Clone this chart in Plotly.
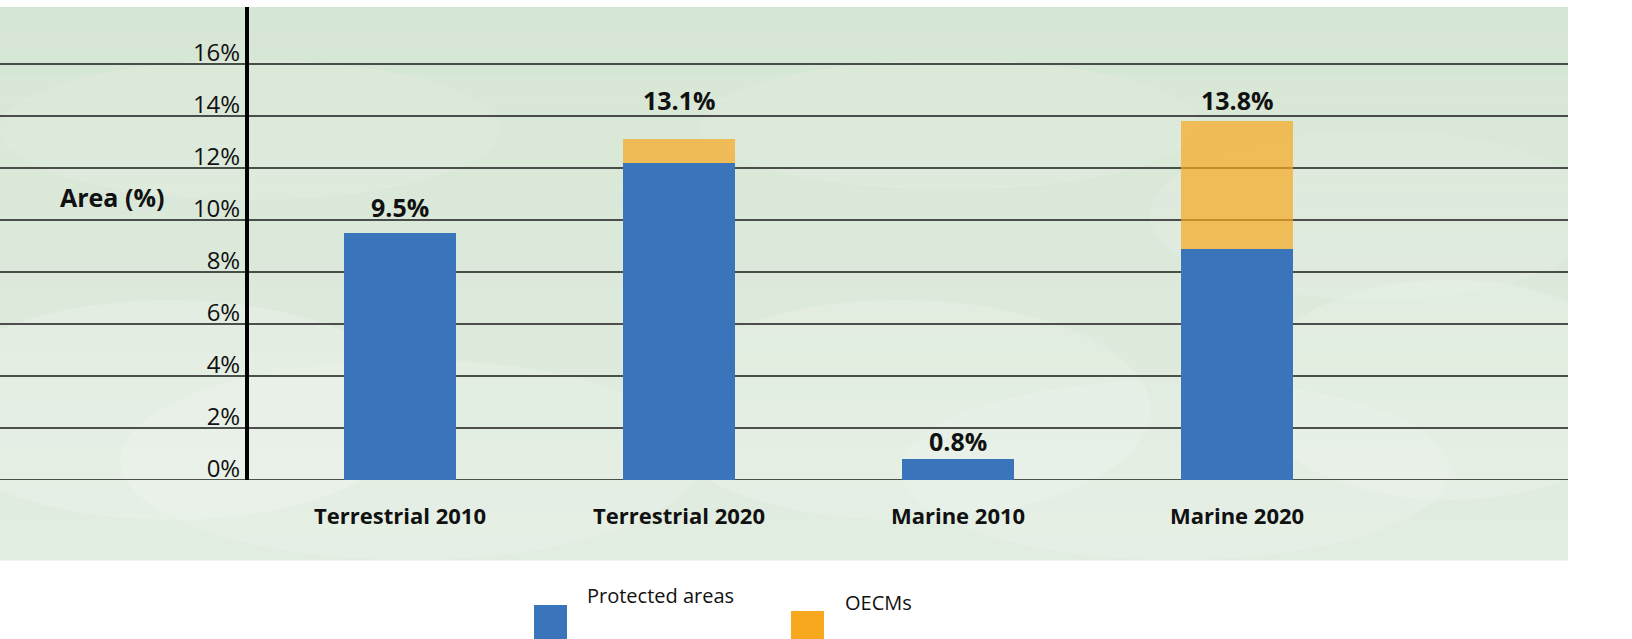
import plotly.graph_objects as go

categories = ["Terrestrial 2010", "Terrestrial 2020", "Marine 2010", "Marine 2020"]
protected_areas = [9.5, 12.2, 0.8, 8.9]
oecms = [0.0, 0.9, 0.0, 4.9]
total_labels = ["9.5%", "13.1%", "0.8%", "13.8%"]
y_ticks = [0, 2, 4, 6, 8, 10, 12, 14, 16]
y_tick_text = ["0%", "2%", "4%", "6%", "8%", "10%", "12%", "14%", "16%"]

# layout (pixel geometry of the figure)
W, H = 1632, 639
L, R, T, B = 249, 64, 7, 159
PW, PH = W - L - R, H - T - B
label_offsets = [1.0, 1.5, 0.7, 0.8]

def px(x):
    return (x - L) / PW

def py(y):
    return (H - B - y) / PH

FONT = "Open Sans"
BLUE = "#3a74bb"
ORANGE = "#f7a81f"

fig = go.Figure()
fig.add_trace(go.Bar(
    x=list(range(len(categories))), y=protected_areas, name="Protected areas",
    marker=dict(color=BLUE, line=dict(width=0)), width=0.4, showlegend=False,
))
fig.add_trace(go.Bar(
    x=list(range(len(categories))), y=oecms, name="OECMs",
    marker=dict(color=ORANGE, opacity=0.7, line=dict(width=0)), width=0.4, showlegend=False,
))

shapes = []
# background panel (cloud photo approximated with a soft pale-green gradient)
top_rgb = (214, 230, 212)
bot_rgb = (226, 237, 225)
n_strips = 24
y_top, y_bot = 7, 560
for k in range(n_strips):
    f = k / (n_strips - 1)
    c = tuple(int(round(a + (b - a) * f)) for a, b in zip(top_rgb, bot_rgb))
    ya = y_top + (y_bot - y_top) * k / n_strips
    yb = y_top + (y_bot - y_top) * (k + 1) / n_strips
    shapes.append(dict(type="rect", xref="paper", yref="paper", x0=px(0), x1=px(1568),
                       y0=py(yb + 0.5), y1=py(ya), fillcolor="rgb(%d,%d,%d)" % c,
                       line=dict(width=0), layer="below"))
# very soft lighter patches hinting at clouds
for (x0, y0, x1, y1, op) in [(-80, 300, 420, 520, 0.18), (120, 360, 700, 560, 0.15),
                             (650, 300, 1150, 520, 0.16), (900, 380, 1450, 560, 0.14),
                             (1250, 280, 1650, 500, 0.16), (0, 60, 500, 200, 0.10),
                             (700, 60, 1200, 190, 0.10), (1150, 130, 1600, 300, 0.12)]:
    shapes.append(dict(type="circle", xref="paper", yref="paper", x0=px(x0), x1=px(x1),
                       y0=py(y1), y1=py(y0), fillcolor="white", opacity=op,
                       line=dict(width=0), layer="below"))
# gridlines across the whole panel
for v in y_ticks:
    shapes.append(dict(type="line", xref="paper", yref="y", x0=px(0), x1=px(1568), y0=v, y1=v,
                       line=dict(color="#1a1a1a", width=1.6), layer="below"))
# legend swatches
shapes.append(dict(type="rect", xref="paper", yref="paper", x0=px(534), x1=px(567),
                   y0=py(639), y1=py(605), fillcolor=BLUE, line=dict(width=0)))
shapes.append(dict(type="rect", xref="paper", yref="paper", x0=px(791), x1=px(824),
                   y0=py(640), y1=py(611), fillcolor=ORANGE, line=dict(width=0)))

annotations = []
for i, (p, o, t) in enumerate(zip(protected_areas, oecms, total_labels)):
    annotations.append(dict(x=i, y=p + o + label_offsets[i], xref="x", yref="y", text="<b>%s</b>" % t,
                            showarrow=False, yanchor="middle",
                            font=dict(family=FONT, size=25, color="#111")))
annotations.append(dict(x=px(58), y=py(197), xref="paper", yref="paper", xanchor="left",
                        yanchor="middle", text="<b>Area (%)</b>", showarrow=False,
                        font=dict(family=FONT, size=25, color="#111")))
annotations.append(dict(x=px(585), y=py(595), xref="paper", yref="paper", xanchor="left",
                        yanchor="middle", text="Protected areas", showarrow=False,
                        font=dict(family=FONT, size=20, color="#111")))
annotations.append(dict(x=px(843), y=py(602), xref="paper", yref="paper", xanchor="left",
                        yanchor="middle", text="OECMs", showarrow=False,
                        font=dict(family=FONT, size=20, color="#111")))

fig.update_layout(
    width=W, height=H, barmode="stack",
    margin=dict(l=L, r=R, t=T, b=B, pad=0),
    paper_bgcolor="white", plot_bgcolor="rgba(0,0,0,0)",
    shapes=shapes, annotations=annotations,
    xaxis=dict(range=[(249 - 400) / 279, (1568 - 400) / 279], tickmode="array",
               tickvals=list(range(len(categories))),
               ticktext=["<b>%s</b>" % c for c in categories],
               tickfont=dict(family=FONT, size=22, color="#111"),
               showgrid=False, zeroline=False, showline=False, ticks="",
               ticklabelstandoff=21),
    yaxis=dict(range=[0, (480 - 7) / 26], tickmode="array", tickvals=y_ticks, ticktext=y_tick_text,
               tickfont=dict(family=FONT, size=24, color="#111"),
               showgrid=False, zeroline=False, showline=True, linecolor="black", linewidth=4,
               ticks="", ticklabelshift=-11, ticklabelstandoff=0),
    font=dict(family=FONT),
)

fig.write_html("out.html", config={"displayModeBar": False},
               post_script="document.body.style.margin='0';document.body.style.overflow='hidden';")
